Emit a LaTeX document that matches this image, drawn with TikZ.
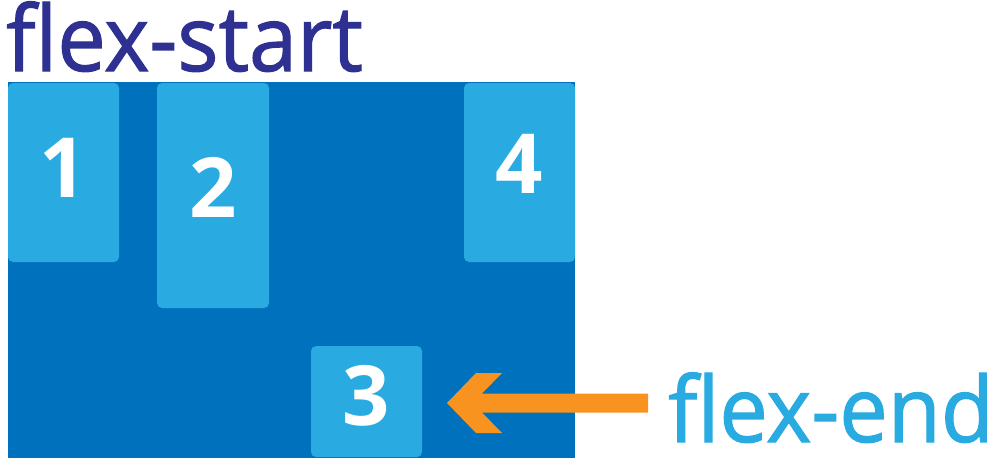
\documentclass[tikz,border=0pt]{standalone}
\usepackage{fontspec}
\setmainfont{Open Sans}
\newfontfamily\labfont[FakeStretch=0.95,FakeBold=1.2]{Open Sans}
\definecolor{cont}{HTML}{0071BC}
\definecolor{item}{HTML}{29ABE2}
\definecolor{startc}{HTML}{2E3192}
\definecolor{endc}{HTML}{29ABE2}
\definecolor{arrowc}{HTML}{F7931E}
\begin{document}
\begin{tikzpicture}[x=1pt,y=-1pt,
  itembox/.style={fill=item,rounded corners=5pt},
  digit/.style={text=white,font=\fontsize{83}{83}\selectfont\bfseries,inner sep=0pt,anchor=base},
  label/.style={font=\labfont\fontsize{91}{91}\selectfont,inner sep=0pt,text depth=0pt,anchor=base west}]
\useasboundingbox (0,0) rectangle (996,458);
\fill[cont] (8,82) rectangle (575,458);
\node[label,text=startc] (start) at (6,71) {flex-start};
\fill[itembox] (8,83) rectangle (119,262);
\fill[itembox] (157,83) rectangle (269,308);
\fill[itembox] (464,83) rectangle (575,262);
\fill[itembox] (311,346) rectangle (422,457);
\node[digit] (n1) at (63.5,197) {1};
\node[digit] (n2) at (213,217) {2};
\node[digit] (n4) at (519.5,193) {4};
\node[digit] (n3) at (366.5,425) {3};
\node[label,text=endc] (end) at (668,442) {flex-end};
\fill[arrowc] (447,403) -- (476,373) -- (502,373) -- (482,393.5) -- (648,393.5)
  -- (648,412.5) -- (482,412.5) -- (502,433) -- (476,433) -- cycle;
\end{tikzpicture}
\end{document}
